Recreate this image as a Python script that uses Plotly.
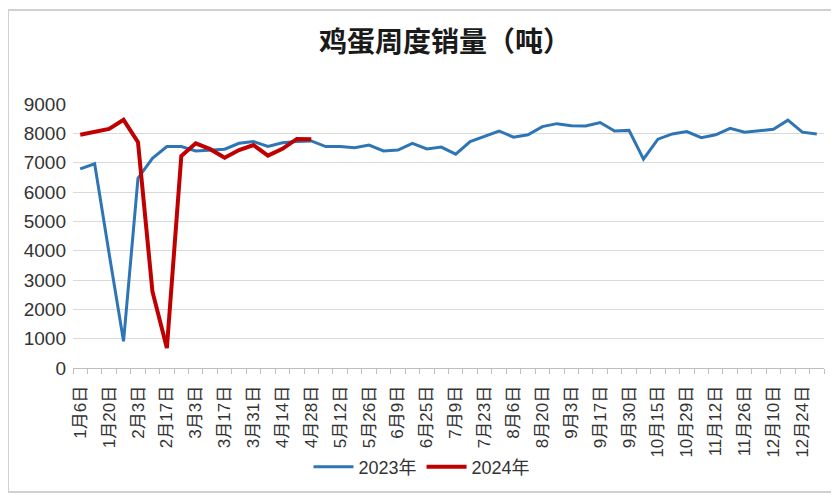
import plotly.graph_objects as go

weeks = ["1月6日", "1月13日", "1月20日", "1月27日", "2月3日", "2月10日", "2月17日", "2月24日",
         "3月3日", "3月10日", "3月17日", "3月24日", "3月31日", "4月7日", "4月14日", "4月21日",
         "4月28日", "5月5日", "5月12日", "5月19日", "5月26日", "6月2日", "6月9日", "6月16日",
         "6月25日", "7月2日", "7月9日", "7月16日", "7月23日", "7月30日", "8月6日", "8月13日",
         "8月20日", "8月27日", "9月3日", "9月10日", "9月17日", "9月24日", "9月30日", "10月8日",
         "10月15日", "10月22日", "10月29日", "11月5日", "11月12日", "11月19日", "11月26日", "12月3日",
         "12月10日", "12月17日", "12月24日", "12月31日"]

sales_2023 = [6790, 6960, 3900, 910, 6470, 7150, 7550, 7550, 7400, 7430, 7460, 7660, 7720,
              7550, 7680, 7720, 7740, 7550, 7550, 7510, 7600, 7400, 7430, 7660, 7470, 7530,
              7290, 7720, 7890, 8080, 7870, 7950, 8230, 8330, 8260, 8250, 8370, 8080, 8100,
              7120, 7800, 7980, 8060, 7850, 7950, 8170, 8040, 8090, 8140, 8450, 8040, 7980]

sales_2024 = [7950, 8060, 8150, 8460, 7700, 2610, 680, 7230, 7660, 7460, 7170, 7430, 7600,
              7240, 7470, 7810, 7800]

tick_text = [w if i % 2 == 0 else "" for i, w in enumerate(weeks)]

font_family = "Liberation Sans, Noto Sans CJK SC, sans-serif"

fig = go.Figure()
fig.add_trace(go.Scatter(x=weeks, y=sales_2023, mode="lines", name="2023年",
                         line=dict(color="#2E75B6", width=3)))
fig.add_trace(go.Scatter(x=weeks[:len(sales_2024)], y=sales_2024, mode="lines", name="2024年",
                         line=dict(color="#C00000", width=4)))

# page body has an 8px margin: positions below are screenshot px minus 8
OFF = 8
W, H = 839, 495
px_left, px_right, px_top, px_bottom = 73, 824, 104, 368
ml = px_left - OFF
mt = px_top - OFF
mr = W - (px_right - OFF)
mb = H - (px_bottom - OFF)
pw, ph = W - ml - mr, H - mt - mb


def fx(sx):
    return (sx - OFF - ml) / pw


def fy(sy):
    return 1 - (sy - OFF - mt) / ph


fig.update_layout(
    width=W, height=H,
    margin=dict(l=ml, r=mr, t=mt, b=mb, autoexpand=False),
    paper_bgcolor="white", plot_bgcolor="white",
    font=dict(family=font_family, color="#333333"),
    title=dict(text="<b>鸡蛋周度销量（吨）</b>", x=(445 - OFF) / W, xanchor="center",
               y=1 - (42 - OFF) / H, yanchor="middle",
               font=dict(family="Noto Sans CJK SC", size=28, color="#1a1a1a")),
    xaxis=dict(type="category", range=[-0.5, len(weeks) - 0.5],
               tickmode="array", tickvals=weeks, ticktext=tick_text,
               tickson="boundaries", ticks="outside", ticklen=5, tickcolor="#BFBFBF",
               tickangle=-90, tickfont=dict(size=17, color="#333333"),
               ticklabelstandoff=10,
               showgrid=False, showline=True, linecolor="#BFBFBF", linewidth=1,
               zeroline=False),
    yaxis=dict(range=[0, 9000], dtick=1000, tickfont=dict(size=19, color="#333333"),
               showgrid=True, gridcolor="#D9D9D9", gridwidth=1.3, zeroline=False,
               showline=False, ticks="", ticklabelstandoff=6),
    legend=dict(orientation="h", x=fx(422), xanchor="center",
                y=fy(467), yanchor="middle",
                font=dict(size=18, color="#333333"), itemwidth=40,
                bgcolor="rgba(0,0,0,0)"),
    showlegend=True,
)

# outer frame of the chart picture
fig.add_shape(type="rect", xref="paper", yref="paper",
              x0=fx(8), x1=fx(836), y0=fy(492), y1=fy(10),
              line=dict(color="#D0D0D0", width=2), fillcolor="rgba(0,0,0,0)", layer="below")

fig.write_html("out.html")
